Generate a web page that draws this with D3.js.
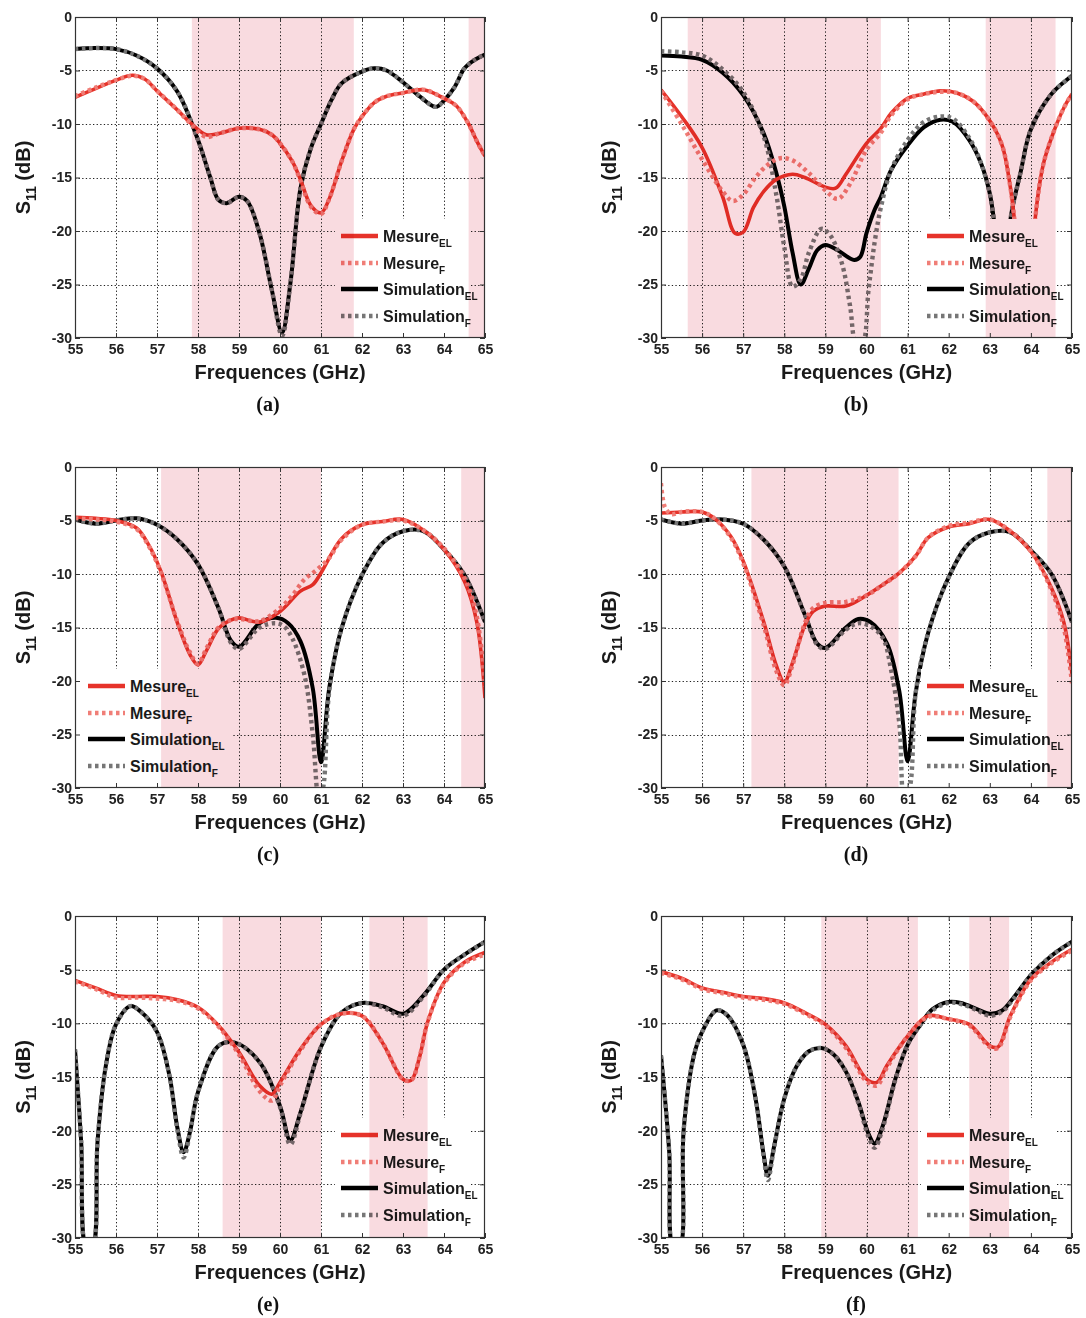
<!DOCTYPE html>
<html><head><meta charset="utf-8">
<script src="https://cdn.jsdelivr.net/npm/d3@7"></script>
<style>body{margin:0;background:#fff}svg{display:block}</style>
</head><body><svg id="chart" width="1086" height="1318"></svg>
<script>
// ---------- DATA ----------
const xTicks = [55,56,57,58,59,60,61,62,63,64,65];
const yTicks = [0,-5,-10,-15,-20,-25,-30];
const panelLabels = ["(a)","(b)","(c)","(d)","(e)","(f)"];
const seriesNames = ["Mesure","Mesure","Simulation","Simulation"];
const seriesSubs = ["EL","F","EL","F"];
const xTitle = "Frequences (GHz)";

// (a)
const a_bands = [[57.85,61.8],[64.6,65]];
const a_mesEL = [[55,-7.5],[55.5,-6.7],[56,-5.9],[56.4,-5.45],[56.7,-5.8],[57,-6.9],[57.5,-8.7],[57.85,-10.0],[58.2,-11.0],[58.5,-10.9],[59,-10.4],[59.5,-10.5],[59.8,-11.0],[60,-11.8],[60.3,-13.5],[60.5,-15.2],[60.75,-17.6],[61,-18.3],[61.2,-17],[61.5,-13.5],[61.8,-10.5],[62,-9.3],[62.3,-8.0],[62.6,-7.4],[63,-7.1],[63.5,-6.8],[64,-7.6],[64.3,-8.3],[64.6,-10],[64.8,-11.6],[65,-13]];
const a_mesF = [[55,-7.4],[55.5,-6.6],[56,-5.9],[56.4,-5.5],[56.7,-5.8],[57,-6.9],[57.5,-8.7],[57.85,-10.1],[58.2,-11.2],[58.5,-10.9],[59,-10.4],[59.5,-10.5],[59.8,-11.0],[60,-11.8],[60.3,-13.5],[60.5,-15.3],[60.75,-17.7],[61,-18.4],[61.2,-17],[61.5,-13.5],[61.8,-10.5],[62,-9.3],[62.3,-8.0],[62.6,-7.4],[63,-7.1],[63.5,-6.8],[64,-7.6],[64.3,-8.3],[64.6,-10],[64.8,-11.6],[65,-13]];
const a_simEL = [[55,-3.0],[55.5,-2.9],[56,-3.0],[56.5,-3.6],[57,-4.8],[57.5,-7.0],[58,-11.5],[58.3,-15],[58.5,-17.1],[58.7,-17.4],[59,-16.8],[59.2,-17.2],[59.5,-20.2],[59.8,-25.5],[60.05,-29.5],[60.25,-25],[60.5,-16],[60.75,-12.3],[61,-10],[61.25,-7.8],[61.5,-6.2],[62,-5.1],[62.3,-4.8],[62.6,-5.0],[63,-6.1],[63.4,-7.4],[63.8,-8.4],[64,-7.8],[64.25,-6.6],[64.5,-4.8],[64.75,-4.0],[65,-3.5]];
const a_simF = [[55,-3.0],[55.5,-2.9],[56,-3.0],[56.5,-3.6],[57,-4.8],[57.5,-7.0],[58,-11.5],[58.3,-15],[58.5,-17.1],[58.7,-17.4],[59,-16.8],[59.2,-17.2],[59.5,-20.2],[59.8,-25.5],[60.05,-29.8],[60.25,-25],[60.5,-16],[60.75,-12.3],[61,-10],[61.25,-7.8],[61.5,-6.2],[62,-5.1],[62.3,-4.8],[62.6,-5.0],[63,-6.1],[63.4,-7.4],[63.8,-8.4],[64,-7.8],[64.25,-6.6],[64.5,-4.8],[64.75,-4.0],[65,-3.5]];

// (b)
const b_bands = [[55.65,60.35],[62.9,64.6]];
const b_mesEL = [[55,-6.8],[55.5,-9.3],[56,-12.2],[56.5,-16.8],[56.8,-20.2],[57,-20.1],[57.25,-17.8],[57.5,-16.3],[57.8,-15.2],[58.2,-14.7],[58.5,-15.0],[59,-15.9],[59.25,-16.0],[59.5,-14.7],[60,-11.8],[60.35,-10.4],[60.6,-9.0],[61,-7.6],[61.4,-7.2],[61.8,-6.9],[62.2,-7.1],[62.6,-7.9],[63,-9.7],[63.3,-12.0],[63.5,-15.9],[63.6,-19],[63.8,-28],[63.95,-28],[64.1,-19],[64.3,-13.8],[64.5,-11.3],[64.8,-8.5],[65,-7.2]];
const b_mesF = [[55,-6.9],[55.5,-10.0],[56,-13.3],[56.5,-16.3],[56.75,-17.2],[57,-16.6],[57.3,-15.0],[57.6,-13.8],[57.9,-13.2],[58.2,-13.4],[58.6,-14.6],[59,-16.2],[59.3,-17.0],[59.6,-15.6],[60,-12.4],[60.35,-10.8],[60.6,-9.2],[61,-7.7],[61.4,-7.2],[61.8,-7.0],[62.2,-7.1],[62.6,-7.9],[63,-9.7],[63.3,-12.0],[63.5,-15.9],[63.6,-19],[63.8,-28],[63.95,-28],[64.1,-19],[64.3,-13.8],[64.5,-11.3],[64.8,-8.5],[65,-7.2]];
const b_simEL = [[55,-3.6],[55.5,-3.7],[56,-4.0],[56.5,-5.2],[57,-7.3],[57.5,-10.9],[57.8,-14.5],[58,-17.7],[58.2,-22.0],[58.4,-25.0],[58.6,-23.5],[58.8,-21.8],[59,-21.3],[59.3,-21.8],[59.7,-22.7],[59.85,-22.4],[60,-20.2],[60.2,-18.0],[60.35,-16.8],[60.6,-14.3],[61,-12.0],[61.4,-10.3],[61.8,-9.6],[62.1,-9.8],[62.5,-11.5],[62.8,-13.8],[63,-16.5],[63.1,-19],[63.3,-28],[63.45,-24],[63.5,-19],[63.75,-14.5],[64,-10.5],[64.5,-7.2],[65,-5.5]];
const b_simF = [[55,-3.2],[55.5,-3.3],[56,-3.6],[56.5,-4.9],[57,-7.0],[57.5,-11.2],[57.8,-16.5],[58,-21.5],[58.2,-25.2],[58.4,-24.5],[58.6,-22.0],[58.9,-19.8],[59.1,-20.3],[59.4,-23.0],[59.6,-27.0],[59.75,-30.5],[59.9,-30.5],[60.05,-25.5],[60.2,-21.0],[60.35,-17.8],[60.6,-14.3],[61,-11.5],[61.4,-9.8],[61.8,-9.3],[62.1,-9.5],[62.5,-11.3],[62.8,-13.8],[63,-16.5],[63.1,-19],[63.3,-28],[63.45,-24],[63.5,-19],[63.75,-14.5],[64,-10.5],[64.5,-7.2],[65,-5.5]];

// (c)
const c_bands = [[57.1,61.0],[64.42,65]];
const c_mesEL = [[55,-4.7],[55.5,-4.8],[56,-5.0],[56.5,-5.7],[56.8,-7.3],[57.1,-9.8],[57.5,-14.6],[57.8,-17.5],[58,-18.5],[58.2,-17.2],[58.5,-15.1],[58.8,-14.3],[59,-14.1],[59.5,-14.5],[60,-13.5],[60.5,-11.6],[60.8,-11.0],[61,-9.9],[61.5,-6.7],[62,-5.4],[62.5,-5.1],[63,-4.9],[63.5,-5.9],[64,-7.7],[64.5,-10.7],[64.8,-14.5],[65,-21.6]];
const c_mesF = [[55,-4.8],[55.5,-4.9],[56,-5.1],[56.5,-5.8],[56.8,-7.4],[57.1,-9.9],[57.5,-14.5],[57.8,-17.3],[58,-18.4],[58.2,-17.0],[58.5,-15.0],[58.8,-14.3],[59,-14.2],[59.5,-14.4],[60,-13.2],[60.3,-12.0],[60.6,-10.5],[60.9,-9.6],[61.2,-8.5],[61.5,-6.8],[62,-5.4],[62.5,-5.1],[63,-5.0],[63.5,-5.9],[64,-7.6],[64.5,-10.4],[64.8,-14.0],[65,-20.5]];
const c_simEL = [[55,-4.9],[55.5,-5.3],[56,-5.0],[56.5,-4.8],[57,-5.4],[57.5,-6.8],[58,-9.1],[58.5,-13.2],[58.8,-16.2],[59,-16.8],[59.5,-14.6],[59.9,-14.1],[60.2,-14.6],[60.5,-16.3],[60.8,-20.7],[61,-27.6],[61.2,-20.7],[61.5,-15.1],[62,-10.1],[62.5,-7.1],[63,-6.0],[63.5,-6.0],[64,-7.7],[64.5,-10.1],[65,-14.5]];
const c_simF = [[55,-4.9],[55.5,-5.3],[56,-5.0],[56.5,-4.8],[57,-5.4],[57.5,-6.8],[58,-9.1],[58.5,-13.2],[58.8,-16.4],[59,-17.0],[59.5,-15.0],[59.9,-14.6],[60.1,-14.9],[60.3,-16.0],[60.6,-19.5],[60.8,-25],[60.95,-31],[61.05,-30],[61.2,-21],[61.5,-15.1],[62,-10.1],[62.5,-7.1],[63,-6.0],[63.5,-6.0],[64,-7.7],[64.5,-10.1],[65,-14.5]];

// (d)
const d_bands = [[57.2,60.78],[64.4,65]];
const d_mesEL = [[55,-4.3],[55.5,-4.2],[56,-4.2],[56.3,-4.8],[56.7,-6.5],[57,-8.8],[57.5,-14.5],[57.8,-18.5],[58,-20.1],[58.2,-18.3],[58.5,-14.8],[58.7,-13.5],[59,-13.0],[59.5,-13.0],[60,-12.0],[60.4,-11.0],[60.8,-9.9],[61.2,-8.3],[61.5,-6.6],[62,-5.6],[62.5,-5.3],[63,-4.9],[63.5,-6.0],[64,-7.9],[64.5,-11.3],[64.8,-14.5],[65,-19.4]];
const d_mesF = [[55,-1.5],[55.1,-3.8],[55.25,-4.4],[55.5,-4.2],[56,-4.2],[56.3,-4.8],[56.7,-6.6],[57,-9.0],[57.5,-14.8],[57.8,-19.0],[58,-20.4],[58.2,-18.5],[58.5,-14.6],[58.7,-13.2],[59,-12.7],[59.5,-12.6],[60,-12.0],[60.4,-11.0],[60.8,-9.9],[61.2,-8.3],[61.5,-6.6],[62,-5.5],[62.5,-5.2],[63,-4.9],[63.5,-6.0],[64,-7.9],[64.5,-11.5],[64.8,-15.0],[65,-20.2]];
const d_simEL = [[55,-4.9],[55.5,-5.3],[56,-5.0],[56.5,-4.9],[57,-5.3],[57.5,-6.8],[58,-9.3],[58.5,-13.8],[58.8,-16.5],[59,-16.9],[59.5,-15.0],[59.8,-14.2],[60.1,-14.5],[60.5,-16.5],[60.8,-21],[61,-27.5],[61.2,-21],[61.5,-15.5],[62,-10.3],[62.5,-7.1],[63,-6.1],[63.5,-6.1],[64,-7.8],[64.5,-10],[65,-14.5]];
const d_simF = [[55,-4.9],[55.5,-5.3],[56,-5.0],[56.5,-4.9],[57,-5.3],[57.5,-6.8],[58,-9.3],[58.5,-13.8],[58.8,-16.6],[59,-17.0],[59.5,-15.2],[59.8,-14.6],[60.1,-14.9],[60.4,-16.0],[60.6,-19],[60.8,-24],[60.92,-31],[61.05,-30],[61.2,-21],[61.5,-15.5],[62,-10.3],[62.5,-7.1],[63,-6.1],[63.5,-6.1],[64,-7.8],[64.5,-10],[65,-14.5]];

// (e)
const e_bands = [[58.6,61.0],[62.18,63.6]];
const e_mesEL = [[55,-6.0],[55.5,-6.7],[56,-7.4],[56.5,-7.5],[57,-7.5],[57.5,-7.8],[58,-8.5],[58.5,-10.2],[59,-12.7],[59.5,-15.8],[59.8,-16.6],[60,-15.5],[60.5,-12.4],[61,-10.1],[61.5,-9.1],[62,-9.3],[62.5,-11.8],[63,-15.2],[63.2,-15.3],[63.4,-13.2],[63.6,-9.9],[64,-6.2],[64.5,-4.3],[65,-3.4]];
const e_mesF = [[55,-6.1],[55.5,-6.8],[56,-7.6],[56.5,-7.6],[57,-7.7],[57.5,-7.9],[58,-8.6],[58.5,-10.3],[59,-12.9],[59.5,-16.3],[59.8,-17.2],[60,-15.8],[60.5,-12.5],[61,-10.1],[61.5,-9.1],[62,-9.3],[62.5,-11.8],[63,-15.2],[63.2,-15.3],[63.4,-13.2],[63.6,-9.9],[64,-6.3],[64.5,-4.4],[65,-3.6]];
const e_simEL = [[55,-12.4],[55.15,-21],[55.28,-31],[55.42,-31],[55.55,-21],[55.75,-14],[56,-10.1],[56.35,-8.4],[56.6,-8.9],[57,-10.8],[57.3,-14.8],[57.5,-19.8],[57.65,-22],[57.8,-20.2],[58,-16.4],[58.5,-12.1],[58.9,-11.8],[59.5,-13.6],[60,-17.7],[60.25,-20.9],[60.5,-18.3],[61,-12.2],[61.5,-9.0],[62,-8.1],[62.5,-8.4],[63,-9.1],[63.5,-7.4],[64,-5.0],[64.5,-3.6],[65,-2.4]];
const e_simF = [[55,-12.4],[55.15,-21],[55.28,-31],[55.42,-31],[55.55,-21],[55.75,-14],[56,-10.1],[56.35,-8.4],[56.6,-8.9],[57,-10.8],[57.3,-14.8],[57.5,-20.0],[57.65,-22.5],[57.8,-20.3],[58,-16.4],[58.5,-12.1],[58.9,-11.8],[59.5,-13.6],[60,-17.8],[60.25,-21.3],[60.5,-18.4],[61,-12.2],[61.5,-9.0],[62,-8.1],[62.5,-8.5],[63,-9.3],[63.5,-7.5],[64,-5.0],[64.5,-3.6],[65,-2.4]];

// (f)
const f_bands = [[58.9,61.25],[62.5,63.47]];
const f_mesEL = [[55,-5.2],[55.5,-5.8],[56,-6.7],[56.5,-7.1],[57,-7.5],[57.5,-7.7],[58,-8.1],[58.5,-9.0],[59,-10.1],[59.5,-12.1],[60,-15.2],[60.25,-15.5],[60.5,-13.9],[61,-11.2],[61.5,-9.3],[62,-9.6],[62.5,-10.1],[63,-12.1],[63.2,-12.2],[63.5,-9.3],[64,-5.9],[64.5,-4.3],[65,-3.1]];
const f_mesF = [[55,-5.3],[55.5,-5.9],[56,-6.8],[56.5,-7.2],[57,-7.6],[57.5,-7.8],[58,-8.2],[58.5,-9.1],[59,-10.2],[59.5,-12.3],[60,-15.4],[60.25,-15.8],[60.5,-14.1],[61,-11.2],[61.5,-9.4],[62,-9.6],[62.5,-10.2],[63,-12.2],[63.2,-12.3],[63.5,-9.4],[64,-6.0],[64.5,-4.4],[65,-3.2]];
const f_simEL = [[55,-13],[55.2,-22],[55.3,-31],[55.45,-31],[55.55,-20],[55.8,-13],[56,-10.8],[56.35,-8.8],[56.6,-9.2],[57,-12],[57.3,-17],[57.5,-22.3],[57.6,-24.2],[57.75,-21.5],[58,-17],[58.3,-14],[58.6,-12.6],[58.9,-12.3],[59.2,-12.9],[59.5,-14.5],[59.8,-17.3],[60.05,-20.3],[60.2,-21.2],[60.4,-19.5],[60.7,-15.2],[61,-12],[61.3,-10.2],[61.6,-8.7],[62,-8.0],[62.3,-8.1],[62.7,-8.7],[63,-9.1],[63.3,-8.8],[63.6,-7.5],[64,-5.5],[64.5,-3.7],[65,-2.4]];
const f_simF = [[55,-13],[55.2,-22],[55.3,-31],[55.45,-31],[55.55,-20],[55.8,-13],[56,-10.8],[56.35,-8.8],[56.6,-9.2],[57,-12],[57.3,-17],[57.5,-22.5],[57.6,-24.6],[57.75,-21.6],[58,-17],[58.3,-14],[58.6,-12.6],[58.9,-12.3],[59.2,-12.9],[59.5,-14.5],[59.8,-17.4],[60.05,-20.6],[60.2,-21.6],[60.4,-19.7],[60.7,-15.3],[61,-12],[61.3,-10.2],[61.6,-8.8],[62,-8.1],[62.3,-8.2],[62.7,-8.8],[63,-9.3],[63.3,-8.9],[63.6,-7.6],[64,-5.5],[64.5,-3.7],[65,-2.4]];

// ---------- LAYOUT ----------
const cols = [{x0:75,x1:485,lab:268},{x0:661,x1:1072,lab:856}];
const rows = [{y0:17,y1:338},{y0:467,y1:788},{y0:916,y1:1238}];
const panels = [
  {bands:a_bands, data:[a_mesEL,a_mesF,a_simEL,a_simF], legend:"right"},
  {bands:b_bands, data:[b_mesEL,b_mesF,b_simEL,b_simF], legend:"right"},
  {bands:c_bands, data:[c_mesEL,c_mesF,c_simEL,c_simF], legend:"left"},
  {bands:d_bands, data:[d_mesEL,d_mesF,d_simEL,d_simF], legend:"right"},
  {bands:e_bands, data:[e_mesEL,e_mesF,e_simEL,e_simF], legend:"right"},
  {bands:f_bands, data:[f_mesEL,f_mesF,f_simEL,f_simF], legend:"right"}
];
// styles for Mesure_EL, Mesure_F, Simulation_EL, Simulation_F
const styles = [
  {stroke:"#e6332a", width:3.6, dash:null},
  {stroke:"#f07e77", width:4.4, dash:"3.5,3.5"},
  {stroke:"#000000", width:4, dash:null},
  {stroke:"#767676", width:4.4, dash:"3.5,3.5"}
];
const drawOrder = [2,3,0,1];
const SANS = "'Liberation Sans', Arial, Helvetica, sans-serif";
const SERIF = "'Liberation Serif', 'Times New Roman', serif";

const svg = d3.select("#chart");
svg.append("rect").attr("width",1086).attr("height",1318).attr("fill","#fff");

panels.forEach((p, i) => {
  const c = cols[i % 2], r = rows[Math.floor(i / 2)];
  const x = d3.scaleLinear().domain([55,65]).range([c.x0, c.x1]);
  const y = d3.scaleLinear().domain([-30,0]).range([r.y1, r.y0]);
  const g = svg.append("g");
  const clipId = "clip" + i;
  svg.append("clipPath").attr("id", clipId).append("rect")
    .attr("x", c.x0).attr("y", r.y0).attr("width", c.x1 - c.x0).attr("height", r.y1 - r.y0);

  // grid
  const grid = g.append("g").attr("stroke","#222").attr("stroke-width",1).attr("stroke-dasharray","1.3,2.3");
  grid.selectAll(".gx").data(xTicks.slice(1,-1)).join("line")
    .attr("x1", d => Math.round(x(d)) + 0.5).attr("x2", d => Math.round(x(d)) + 0.5)
    .attr("y1", r.y0).attr("y2", r.y1);
  grid.selectAll(".gy").data(yTicks.slice(1,-1)).join("line")
    .attr("y1", d => Math.round(y(d)) + 0.5).attr("y2", d => Math.round(y(d)) + 0.5)
    .attr("x1", c.x0).attr("x2", c.x1);

  // series
  const line = d3.line().x(d => x(d[0])).y(d => y(d[1])).curve(d3.curveCatmullRom.alpha(0.5));
  const lg = g.append("g").attr("clip-path", `url(#${clipId})`);
  drawOrder.forEach(k => {
    const s = styles[k];
    lg.append("path").datum(p.data[k]).attr("d", line)
      .attr("fill","none").attr("stroke", s.stroke).attr("stroke-width", s.width)
      .attr("stroke-linejoin","round")
      .attr("stroke-dasharray", s.dash);
  });

  // legend
  const lx = p.legend === "right" ? c.x0 + 260 : c.x0 + 1;
  const lw = p.legend === "right" ? 136 : 156;
  const ly = r.y0 + 202;
  g.append("rect").attr("x", lx).attr("y", ly).attr("width", lw).attr("height", r.y1 - ly).attr("fill","#fff");
  const sx0 = p.legend === "right" ? c.x0 + 266 : c.x0 + 13;
  const rowsY = [219, 246, 272, 299];
  seriesNames.forEach((name, k) => {
    const yy = r.y0 + rowsY[k];
    const s = styles[k];
    g.append("line").attr("x1", sx0).attr("x2", sx0 + 37).attr("y1", yy).attr("y2", yy)
      .attr("stroke", s.stroke).attr("stroke-width", 4.4)
      .attr("stroke-dasharray", s.dash);
    const t = g.append("text").attr("x", sx0 + 42).attr("y", yy + 5.5)
      .attr("font-family", SANS).attr("font-weight","bold").attr("font-size", 16).attr("fill","#1a1a1a");
    t.append("tspan").text(name);
    t.append("tspan").attr("dy", 5).attr("font-size", 10).text(seriesSubs[k]);
  });

  // highlight bands (multiply overlay)
  g.append("g").selectAll("rect").data(p.bands).join("rect")
    .attr("x", d => x(d[0])).attr("width", d => x(d[1]) - x(d[0]))
    .attr("y", r.y0).attr("height", r.y1 - r.y0)
    .attr("fill", "#f9dbe0").style("mix-blend-mode", "multiply");

  // axes
  const fmt = d => String(d);
  const ax = g.append("g").attr("transform", `translate(0,${r.y1})`)
    .call(d3.axisBottom(x).tickValues(xTicks).tickFormat(fmt).tickSizeInner(-5).tickSizeOuter(0).tickPadding(6));
  const ay = g.append("g").attr("transform", `translate(${c.x0},0)`)
    .call(d3.axisLeft(y).tickValues(yTicks).tickFormat(fmt).tickSizeInner(-5).tickSizeOuter(0).tickPadding(3));
  g.append("g").attr("transform", `translate(0,${r.y0})`)
    .call(d3.axisTop(x).tickValues(xTicks).tickFormat("").tickSizeInner(-5).tickSizeOuter(0));
  g.append("g").attr("transform", `translate(${c.x1},0)`)
    .call(d3.axisRight(y).tickValues(yTicks).tickFormat("").tickSizeInner(-5).tickSizeOuter(0));
  g.selectAll(".domain").remove();
  g.selectAll(".tick line").attr("stroke","#333");
  [ax, ay].forEach(a => a.selectAll("text")
    .attr("font-family", SANS).attr("font-weight","bold").attr("font-size", 14).attr("fill","#222"));
  g.append("rect").attr("x", c.x0 + 0.5).attr("y", r.y0 + 0.5)
    .attr("width", c.x1 - c.x0 - 1).attr("height", r.y1 - r.y0 - 1)
    .attr("fill","none").attr("stroke","#333").attr("stroke-width",1.2);

  // titles
  g.append("text").attr("x", (c.x0 + c.x1) / 2).attr("y", r.y1 + 41)
    .attr("text-anchor","middle").attr("font-family", SANS).attr("font-weight","bold")
    .attr("font-size", 20).attr("fill","#1a1a1a").text(xTitle);
  const yt = g.append("text")
    .attr("transform", `translate(${c.x0 - 45},${(r.y0 + r.y1) / 2}) rotate(-90)`)
    .attr("text-anchor","middle").attr("font-family", SANS).attr("font-weight","bold")
    .attr("font-size", 20).attr("fill","#1a1a1a");
  yt.append("tspan").text("S");
  yt.append("tspan").attr("font-size", 14).attr("dy", 6).text("11");
  yt.append("tspan").attr("dy", -6).text(" (dB)");

  g.append("text").attr("x", c.lab).attr("y", r.y1 + 73)
    .attr("text-anchor","middle").attr("font-family", SERIF).attr("font-weight","bold")
    .attr("font-size", 20).attr("fill","#111").text(panelLabels[i]);
});
</script>
</body></html>
